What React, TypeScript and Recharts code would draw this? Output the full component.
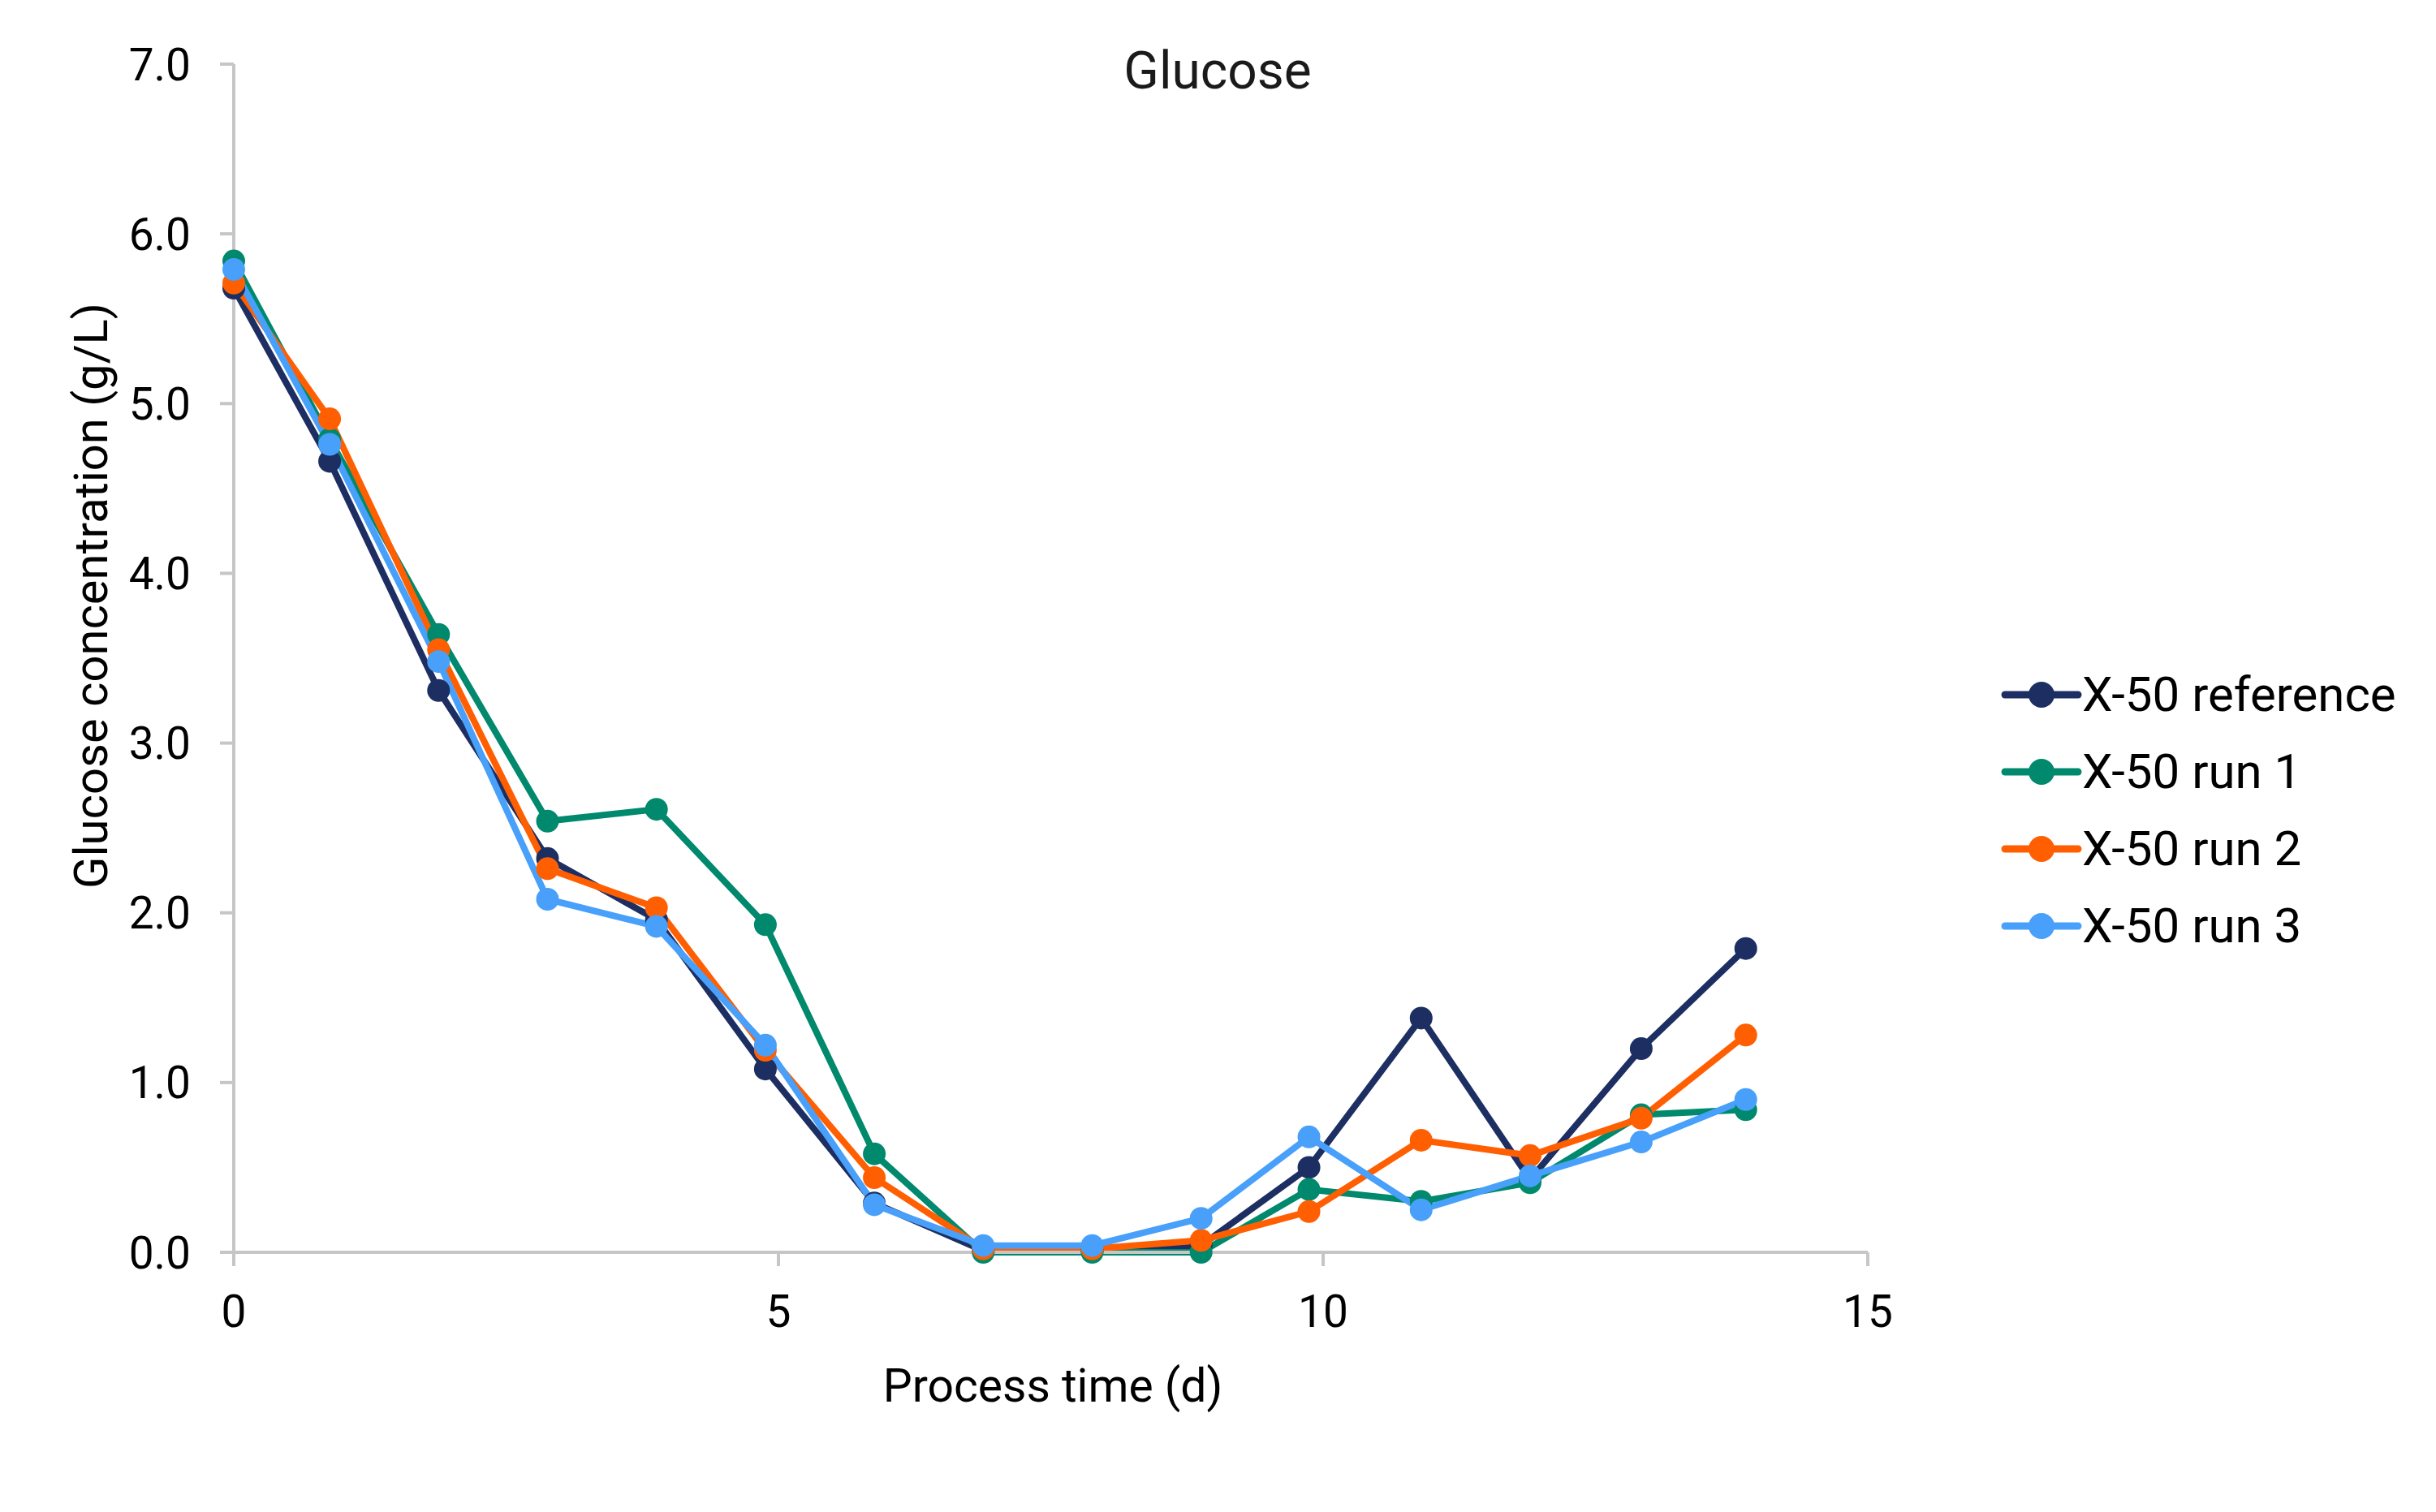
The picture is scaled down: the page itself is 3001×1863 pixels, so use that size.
import React from "react";
import { LineChart, Line, XAxis, YAxis, Legend, Label } from "recharts";

const times = [0, 0.88, 1.88, 2.88, 3.88, 4.88, 5.88, 6.88, 7.88, 8.88, 9.87, 10.9, 11.9, 12.92, 13.88];

const x50Reference = [5.68, 4.66, 3.31, 2.32, 1.96, 1.08, 0.29, 0.01, 0.01, 0.04, 0.5, 1.38, 0.43, 1.2, 1.79];
const x50Run1 = [5.84, 4.79, 3.64, 2.54, 2.61, 1.93, 0.58, 0.0, 0.0, 0.0, 0.37, 0.3, 0.41, 0.81, 0.84];
const x50Run2 = [5.71, 4.91, 3.55, 2.26, 2.03, 1.19, 0.44, 0.02, 0.02, 0.07, 0.24, 0.66, 0.57, 0.79, 1.28];
const x50Run3 = [5.79, 4.76, 3.48, 2.08, 1.92, 1.22, 0.28, 0.04, 0.04, 0.2, 0.68, 0.25, 0.45, 0.65, 0.9];

const xTicks = [0, 5, 10, 15];
const yTicks = [0, 1, 2, 3, 4, 5, 6, 7];

const seriesKeys = ["ref", "run1", "run2", "run3"];
const seriesNames = ["X-50 reference", "X-50 run 1", "X-50 run 2", "X-50 run 3"];
const seriesColors = ["#1d2f62", "#00896c", "#ff5f00", "#48a0fa"];

const data = times.map((t, i) => ({
  t,
  ref: x50Reference[i],
  run1: x50Run1[i],
  run2: x50Run2[i],
  run3: x50Run3[i],
}));

const FONT = "Roboto, 'Noto Sans', sans-serif";
const AXIS = "#c6c6c6";

function LegendBox() {
  return (
    <ul style={{ listStyle: "none", margin: 0, padding: 0, fontFamily: FONT }}>
      {seriesNames.map((name, i) => (
        <li key={name} style={{ display: "flex", alignItems: "center", height: 95 }}>
          <svg width={100} height={40} style={{ display: "block" }}>
            <line x1={5} y1={20} x2={95} y2={20} stroke={seriesColors[i]} strokeWidth={9} strokeLinecap="round" />
            <circle cx={50} cy={20} r={16} fill={seriesColors[i]} />
          </svg>
          <span style={{ fontSize: 60, color: "#000", marginLeft: 0, whiteSpace: "nowrap" }}>{name}</span>
        </li>
      ))}
    </ul>
  );
}

export default function App() {
  return (
    <div style={{ position: "absolute", left: 0, top: 0, width: 3001, height: 1863, background: "#fff", fontFamily: FONT }}>
      <div
        style={{
          position: "absolute",
          left: 1300,
          width: 400,
          top: 48,
          textAlign: "center",
          fontSize: 64,
          lineHeight: "80px",
          color: "#1a1a1a",
        }}
      >
        Glucose
      </div>
      <LineChart
        width={3001}
        height={1863}
        data={data}
        margin={{ top: 79, left: 88, right: 700, bottom: 120 }}
      >
        <XAxis
          dataKey="t"
          type="number"
          domain={[0, 15]}
          ticks={xTicks}
          height={200}
          axisLine={{ stroke: AXIS, strokeWidth: 4 }}
          tickLine={{ stroke: AXIS, strokeWidth: 4 }}
          tickSize={17}
          tickMargin={36}
          tick={{ fontSize: 55, fill: "#000", fontFamily: FONT }}
        >
          <Label
            content={() => (
              <text
                x={1297}
                y={1707}
                textAnchor="middle"
                dominantBaseline="central"
                style={{ fontSize: 57, fill: "#000", fontFamily: FONT }}
              >
                Process time (d)
              </text>
            )}
          />
        </XAxis>
        <YAxis
          type="number"
          domain={[0, 7]}
          ticks={yTicks}
          width={200}
          axisLine={{ stroke: AXIS, strokeWidth: 4 }}
          tickLine={{ stroke: AXIS, strokeWidth: 4 }}
          tickSize={17}
          tickMargin={36}
          tickFormatter={(v: number) => v.toFixed(1)}
          tick={{ fontSize: 55, fill: "#000", fontFamily: FONT }}
        >
          <Label
            content={() => (
              <text
                x={112}
                y={734}
                transform="rotate(-90, 112, 734)"
                textAnchor="middle"
                dominantBaseline="central"
                style={{ fontSize: 58, fill: "#000", fontFamily: FONT }}
              >
                Glucose concentration (g/L)
              </text>
            )}
          />
        </YAxis>
        <Legend
          layout="vertical"
          align="center"
          verticalAlign="middle"
          wrapperStyle={{ left: 2465, top: 808, width: 536 }}
          content={() => <LegendBox />}
        />
        {seriesKeys.map((k, i) => (
          <Line
            key={k}
            type="linear"
            dataKey={k}
            name={seriesNames[i]}
            stroke={seriesColors[i]}
            strokeWidth={8}
            dot={{ r: 14, fill: seriesColors[i], stroke: "none" }}
            activeDot={false}
            isAnimationActive={false}
          />
        ))}
      </LineChart>
    </div>
  );
}
